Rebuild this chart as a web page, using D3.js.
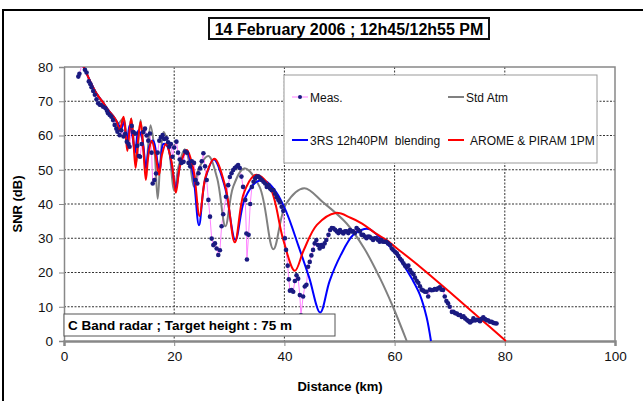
<!DOCTYPE html>
<html>
<head>
<meta charset="utf-8">
<script src="https://cdn.jsdelivr.net/npm/d3@7/dist/d3.min.js"></script>
<style>
  body { margin: 0; background: #fff; }
  text { font-family: "Liberation Sans", Arial, sans-serif; }
</style>
</head>
<body>
<div id="chart"></div>
<script>
// tick values
var distTicks = [0, 20, 40, 60, 80, 100];
var snrTicks = [0, 10, 20, 30, 40, 50, 60, 70, 80];

var meas = [
  [2.6,77.2],[2.8,78.0],[3.3,81.0],[3.8,79.2],[4.1,78.4],[4.5,75.8],[4.8,75.0],[5.0,74.1],[5.3,73.0],[5.6,71.9],
  [5.9,70.6],[6.2,69.4],[6.5,69.0],[6.7,68.9],[7.1,68.4],[7.5,68.0],[7.8,67.2],[8.0,66.5],[8.3,66.0],[8.6,65.5],
  [8.9,64.5],[9.2,63.1],[9.5,62.0],[9.7,61.1],[10.1,60.1],[10.4,61.5],[10.8,59.7],[11.1,60.5],[11.4,58.2],[11.7,57.5],
  [11.9,56.7],[12.3,62.8],[12.6,61.0],[13.0,60.6],[13.3,57.0],[13.6,54.0],[13.8,53.8],[14.1,57.5],[14.4,61.0],[14.7,62.0],
  [15.0,60.0],[15.3,58.5],[15.6,60.6],[15.9,55.0],[16.1,46.0],[16.4,47.0],[16.7,48.9],[17.0,55.0],[17.3,58.5],[17.6,59.5],
  [17.9,60.1],[18.2,59.0],[18.6,59.2],[18.9,58.0],[19.1,56.7],[19.4,57.5],[19.7,53.8],[20.0,56.5],[20.4,58.2],[20.7,55.0],
  [21.0,53.0],[21.3,52.0],[21.7,52.3],[22.0,55.3],[22.3,55.0],[22.6,52.0],[22.9,51.0],[23.2,52.5],[23.6,52.0],[23.9,47.0],
  [24.2,46.0],[24.4,49.0],[24.7,50.4],[25.0,52.5],[25.3,54.8],[25.6,51.0],[25.9,47.0],[26.2,41.2],[26.5,36.3],[26.8,29.9],
  [27.1,28.0],[27.4,28.5],[27.7,27.0],[28.0,25.1],[28.3,26.5],[28.6,33.5],[28.9,37.0],[29.4,42.1],[29.8,45.5],[30.1,47.9],
  [30.4,49.0],[30.7,49.9],[31.0,50.5],[31.3,50.9],[31.6,51.4],[31.9,50.5],[32.2,48.0],[32.5,45.0],[32.9,41.2],[33.1,31.4],
  [33.2,23.8],[33.5,31.0],[33.8,40.0],[34.1,45.0],[34.4,46.5],[34.7,47.5],[35.0,48.0],[35.3,48.0],[35.6,47.5],[35.9,47.0],
  [36.2,46.5],[36.5,46.0],[36.8,45.0],[37.1,45.5],[37.4,44.5],[37.7,44.0],[38.0,44.1],[38.3,43.0],[38.6,42.0],[38.9,41.2],
  [39.2,40.5],[39.5,39.2],[39.8,38.0],[40.1,30.0],[40.3,26.6],[40.6,22.0],[40.8,18.0],[41.0,14.7],[41.3,14.9],[41.6,14.4],
  [41.9,17.5],[42.2,19.2],[42.5,18.2],[42.8,13.4],[43.0,7.5],[43.4,13.0],[43.7,15.9],[44.0,16.4],[44.3,21.7],[44.6,23.1],
  [44.9,25.0],[45.2,26.6],[45.5,28.5],[45.8,29.5],[46.1,28.0],[46.4,27.0],[46.7,28.0],[47.0,27.5],[47.3,28.5],[47.6,29.5],
  [48.0,31.0],[48.3,32.4],[48.6,33.0],[48.9,32.9],[49.2,32.5],[49.5,32.0],[49.8,31.5],[50.1,32.4],[50.4,31.8],[50.7,31.4],
  [51.0,32.0],[51.3,32.0],[51.6,31.5],[51.9,32.4],[52.2,32.0],[52.5,32.0],[52.8,31.5],[53.1,33.0],[53.4,32.5],[53.7,32.0],
  [54.0,31.0],[54.3,31.0],[54.6,30.5],[54.9,30.0],[55.2,30.5],[55.5,30.4],[55.8,30.0],[56.1,29.5],[56.4,30.0],[56.7,30.0],
  [57.0,29.5],[57.3,29.0],[57.6,29.5],[57.9,29.0],[58.2,29.0],[58.5,29.0],[58.8,28.5],[59.2,28.0],[59.5,27.0],[59.8,26.5],
  [60.1,26.0],[60.4,25.6],[60.7,24.8],[61.0,24.0],[61.3,23.5],[61.6,22.7],[61.9,22.0],[62.2,21.5],[62.5,22.0],[62.8,20.7],
  [63.1,20.0],[63.4,19.5],[63.7,18.5],[64.0,17.6],[64.3,17.0],[64.6,16.0],[64.9,15.0],[65.2,14.7],[65.5,14.4],[65.8,14.4],
  [66.1,13.0],[66.4,15.0],[66.7,14.8],[67.0,14.9],[67.3,15.2],[67.6,15.0],[67.9,15.4],[68.2,15.7],[68.5,15.0],[68.8,14.9],
  [69.1,13.0],[69.4,11.7],[69.7,11.0],[70.0,10.0],[70.4,8.5],[70.7,8.5],[71.0,8.1],[71.3,8.0],[71.6,7.6],[71.9,7.6],
  [72.2,7.0],[72.5,7.2],[72.8,6.6],[73.1,6.2],[73.4,5.8],[73.7,5.4],[74.0,5.8],[74.3,6.6],[74.6,6.0],[74.9,6.2],
  [75.2,6.1],[75.5,5.8],[75.8,6.5],[76.1,6.9],[76.4,6.4],[76.7,6.1],[77.0,6.0],[77.3,5.6],[77.6,5.6],[77.9,5.3],
  [78.2,5.2],[78.5,5.1]
];

// Std Atm model (grey)
var stdAtm = [
  [3.3,81],[4,78.5],[5,75],[6,72],[7,69.8],[8,67.5],[9,65.5],[9.8,63.5],[10.8,65],[11.5,57],[12.2,65],[13.1,52],
  [13.9,64.5],[14.8,50],[15.7,63],[16.4,56],[17.0,41.5],[17.5,53],[18.1,61],[19.0,56.5],[20.0,44],[20.8,51],
  [21.9,56],[22.8,52],[23.6,45],[24.5,50.5],[26.2,54],[27.8,47.5],[29.3,33.5],[30.7,45],[32.7,50.4],[35.5,45],
  [38.0,26.8],[40.3,40],[43.6,44.6],[47,40.5],[51.3,34.3],[54.5,27],[57.3,18.5],[59.7,10],[62.2,0]
];

// 3RS 12h40PM blending (blue)
var rs3 = [
  [3.3,81],[4,78.5],[5,75],[6,72],[7,69.8],[8,67.5],[9,65.5],[9.8,63.5],[10.4,62],[10.9,64],[11.4,57.5],[11.9,63],
  [12.4,60],[12.9,55],[13.5,61.5],[14.2,59],[14.9,50.5],[15.5,57],[16.2,58.5],[17.0,52],[17.4,50],[18.0,57.5],
  [18.7,57],[19.6,51],[20.3,44.5],[21.1,51.5],[22.2,55.5],[23.4,49],[24.5,33.8],[25.6,47],[27.2,53],[29.2,45],
  [31.1,29.5],[32.8,41.5],[35,46.5],[36.5,46.7],[38.5,43.5],[40.4,37.5],[42.5,28],[44.5,18.5],[46.5,8.3],[48.2,17.5],
  [50.2,25],[52.5,31],[54.5,32.7],[55.5,32.6],[57.6,29.8],[59.5,27],[61.5,22.5],[63.2,18],[64.6,13.5],[65.8,7],[66.6,0]
];

// AROME & PIRAM 1PM (red)
var arome = [
  [3.3,81],[4,78.5],[5,75],[6,72],[7,69.8],[8,67.5],[9,65.5],[9.6,64],[10.0,61.5],[10.3,62.5],[10.8,65.5],[11.2,60],
  [11.5,55.5],[11.8,60],[12.2,65],[12.6,58],[13.0,50.5],[13.4,58],[13.9,64],[14.4,56],[14.85,47],[15.3,54],
  [15.9,58.5],[16.6,54.5],[17.25,48.5],[17.8,54.5],[18.5,57.5],[19.5,52.5],[20.3,43.3],[21.1,51.5],[22.3,55.8],
  [23.5,50],[24.6,36.5],[25.7,48],[27.3,53.2],[29.3,45],[31.0,28.8],[32.6,43],[34.5,48.3],[35.3,48.4],[37.5,44.5],
  [39.8,29.5],[41.9,20.5],[43.5,26.5],[45.9,33.9],[49.3,37.4],[52,36],[54.1,34.3],[56.5,31.5],[58.7,29.3],[60,27.6],
  [64.6,21.7],[70,14.3],[75.5,6.6],[80.2,0]
];

var seriesNames = ["Meas.", "Std Atm", "3RS 12h40PM  blending", "AROME & PIRAM 1PM"];
var seriesColors = ["#ff80ff", "#808080", "#0000ff", "#ff0000"];

var width = 643, height = 401;
var plot = {left: 64, right: 615, top: 67, bottom: 341};

var svg = d3.select("#chart").append("svg")
    .attr("width", width)
    .attr("height", height);

// outer chart frame (runs off the right and bottom of the picture)
svg.append("path")
    .attr("d", "M3," + height + "V10H" + width)
    .attr("fill", "none")
    .attr("stroke", "#000")
    .attr("stroke-width", 2);

var x = d3.scaleLinear().domain([0, 100]).range([plot.left, plot.right]);
var y = d3.scaleLinear().domain([0, 80]).range([plot.bottom, plot.top]);

// dashed grid
svg.append("g").selectAll("line")
    .data(snrTicks.filter(function (d) { return d > 0 && d < 80; }))
    .enter().append("line")
    .attr("x1", plot.left).attr("x2", plot.right)
    .attr("y1", function (d) { return y(d); }).attr("y2", function (d) { return y(d); })
    .attr("stroke", "#333").attr("stroke-width", 1).attr("stroke-dasharray", "2,1.5");
svg.append("g").selectAll("line")
    .data(distTicks.filter(function (d) { return d > 0 && d < 100; }))
    .enter().append("line")
    .attr("y1", plot.top).attr("y2", plot.bottom)
    .attr("x1", function (d) { return x(d); }).attr("x2", function (d) { return x(d); })
    .attr("stroke", "#333").attr("stroke-width", 1).attr("stroke-dasharray", "2,1.5");

// plot border
svg.append("path")
    .attr("d", "M" + plot.left + "," + plot.top + "H" + plot.right + "V" + plot.bottom)
    .attr("fill", "none").attr("stroke", "#888").attr("stroke-width", 1.5);

// axes
var yAxis = svg.append("g")
    .attr("transform", "translate(" + plot.left + ",0)")
    .call(d3.axisLeft(y).tickValues(snrTicks).tickSize(5).tickPadding(6));
var xAxis = svg.append("g")
    .attr("transform", "translate(0," + plot.bottom + ")")
    .call(d3.axisBottom(x).tickValues(distTicks).tickSize(5).tickPadding(5));
[yAxis, xAxis].forEach(function (g) {
    g.selectAll("text").attr("font-size", 13.5).attr("fill", "#111")
        .attr("font-family", "'Liberation Sans', Arial, sans-serif");
    g.selectAll("line").attr("stroke", "#888");
    g.select(".domain").attr("stroke", "#888").attr("stroke-width", 1.5);
});
xAxis.select(".domain").attr("stroke-width", 2.5);

svg.append("defs").append("clipPath").attr("id", "plotclip")
    .append("rect")
    .attr("x", plot.left).attr("y", plot.top)
    .attr("width", plot.right - plot.left).attr("height", plot.bottom - plot.top + 1);

var area = svg.append("g").attr("clip-path", "url(#plotclip)");

var smooth = d3.line()
    .x(function (d) { return x(d[0]); })
    .y(function (d) { return y(d[1]); })
    .curve(d3.curveCatmullRom.alpha(0.5));
var straight = d3.line()
    .x(function (d) { return x(d[0]); })
    .y(function (d) { return y(d[1]); });

// measurement: thin pink joining line
area.append("path").datum(meas)
    .attr("d", straight)
    .attr("fill", "none").attr("stroke", seriesColors[0]).attr("stroke-width", 1);

// model curves
[stdAtm, rs3, arome].forEach(function (s, i) {
    area.append("path").datum(s)
        .attr("d", smooth)
        .attr("fill", "none")
        .attr("stroke", seriesColors[i + 1])
        .attr("stroke-width", 2);
});

// measurement markers on top
area.append("g").selectAll("circle")
    .data(meas)
    .enter().append("circle")
    .attr("cx", function (d) { return x(d[0]); })
    .attr("cy", function (d) { return y(d[1]); })
    .attr("r", 2.3)
    .attr("fill", "#1a1a80");

// legend box
var legend = svg.append("g");
legend.append("rect")
    .attr("x", 284).attr("y", 75).attr("width", 313).attr("height", 88)
    .attr("fill", "#fff").attr("stroke", "#999").attr("stroke-width", 1);
var legPos = [[292, 97], [448, 97], [292, 140], [448, 140]];
seriesNames.forEach(function (name, i) {
    var p = legPos[i];
    var lg = legend.append("g").attr("transform", "translate(" + p[0] + "," + p[1] + ")");
    lg.append("line")
        .attr("x1", 0).attr("x2", 16).attr("y1", 0).attr("y2", 0)
        .attr("stroke", seriesColors[i]).attr("stroke-width", i === 0 ? 1 : 2);
    if (i === 0) {
        lg.append("circle").attr("cx", 8).attr("cy", 0).attr("r", 2).attr("fill", "#1a1a80");
    }
    lg.append("text")
        .attr("x", i === 3 ? 22 : 18).attr("y", 4.5)
        .attr("font-size", 12).attr("fill", "#111")
        .style("white-space", "pre")
        .text(name);
});

// title box
svg.append("rect")
    .attr("x", 209).attr("y", 18).attr("width", 280).attr("height", 21)
    .attr("fill", "#fff").attr("stroke", "#111").attr("stroke-width", 2);
svg.append("text")
    .attr("x", 349).attr("y", 34.5)
    .attr("text-anchor", "middle")
    .attr("font-size", 16).attr("font-weight", "bold").attr("fill", "#000")
    .text("14 February 2006 ; 12h45/12h55 PM");

// note box
svg.append("rect")
    .attr("x", plot.left).attr("y", 314).attr("width", 271).attr("height", 22)
    .attr("fill", "#fff").attr("stroke", "#555").attr("stroke-width", 1);
svg.append("text")
    .attr("x", plot.left + 4).attr("y", 330)
    .attr("font-size", 13.5).attr("font-weight", "bold").attr("fill", "#000")
    .text("C Band radar ; Target height : 75 m");

// axis titles
svg.append("text")
    .attr("transform", "translate(22," + ((plot.top + plot.bottom) / 2) + ") rotate(-90)")
    .attr("text-anchor", "middle")
    .attr("font-size", 13).attr("font-weight", "bold")
    .text("SNR (dB)");
svg.append("text")
    .attr("x", 340).attr("y", 391)
    .attr("text-anchor", "middle")
    .attr("font-size", 13).attr("font-weight", "bold")
    .text("Distance (km)");
</script>
</body>
</html>
